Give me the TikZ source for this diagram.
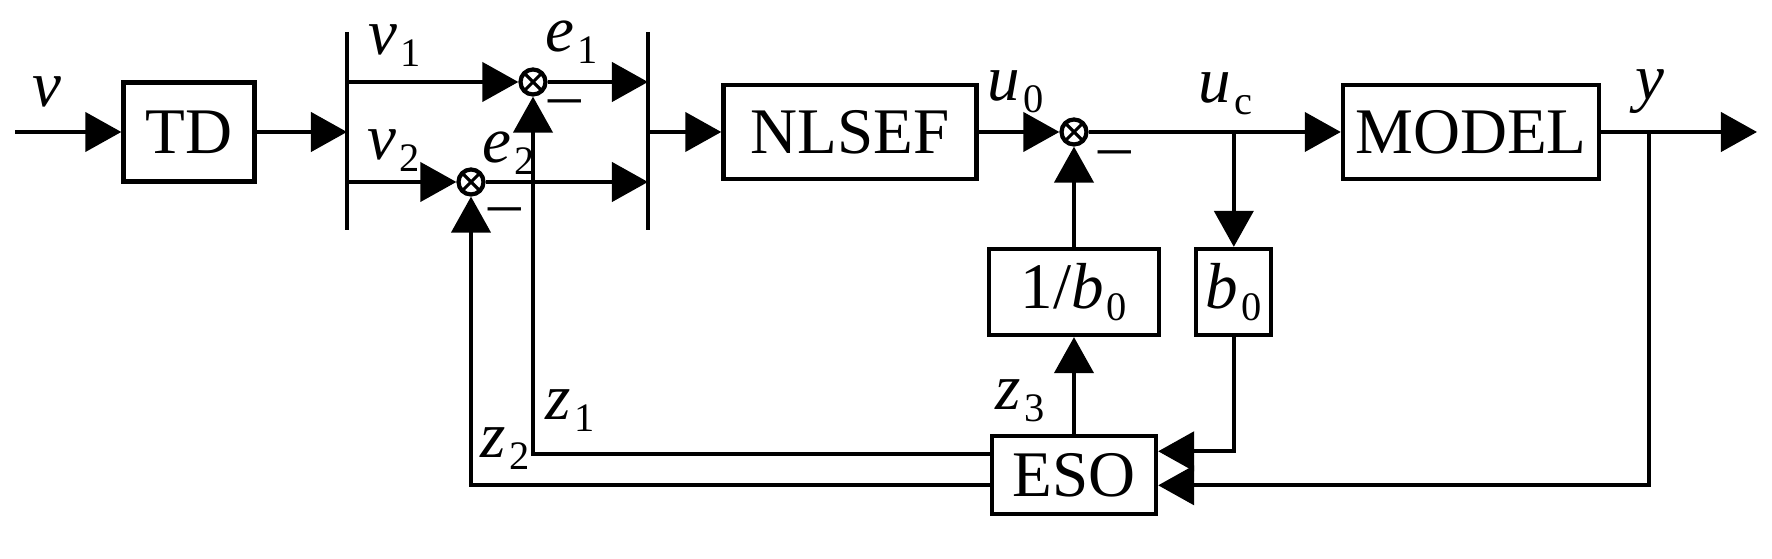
\documentclass[tikz,border=0pt]{standalone}
\usepackage{fontspec}
\setmainfont{Liberation Serif}
\usetikzlibrary{arrows.meta, positioning}
\newcommand{\sig}[2]{\textit{#1}\kern0.03cm\raisebox{-0.12cm}{\fontsize{11.5}{12}\selectfont #2}}

\begin{document}
\begin{tikzpicture}[x=0.01cm, y=-0.01cm, font=\fontsize{18.5}{20}\selectfont,
  block/.style={rectangle, draw, line width=1.2pt, inner sep=0pt, minimum height=0.94cm},
  sumj/.style={circle, draw, line width=1.2pt, inner sep=0pt, minimum size=0.25cm,
    path picture={\draw[line width=0.9pt] (path picture bounding box.north west) -- (path picture bounding box.south east)
      (path picture bounding box.north east) -- (path picture bounding box.south west);}},
  lbl/.style={inner sep=0pt, anchor=base west},
  minus/.style={inner sep=0pt, anchor=base},
  line/.style={line width=1.2pt},
  arrow/.style={-{Triangle[length=0.36cm, width=0.39cm]}, line width=1.2pt}]
\useasboundingbox (0,0) rectangle (1772,559);

% blocks
\node[block, minimum width=1.31cm, minimum height=0.99cm] (TD) at (189,132) {TD};
\node[block, minimum width=2.53cm] (NLSEF) at (850,132) {NLSEF};
\node[block, minimum width=2.56cm] (MODEL) at (1471,132) {MODEL};
\node[block, minimum width=1.70cm, minimum height=0.86cm] (invb) at (1074,292) {1/\sig{b}{0}};
\node[block, minimum width=0.75cm, minimum height=0.86cm, right=0.33cm of invb] (b0) {\sig{b}{0}};
\node[block, minimum width=1.64cm, minimum height=0.78cm, below=0.97cm of invb] (ESO) {ESO};

% summing junctions
\node[sumj] (sum1) at (533,82) {};
\node[sumj] (sum2) at (471,182) {};
\node[sumj] (sum3) at (1074,132) {};

% bars
\coordinate (b1t) at (347,32);
\coordinate (b1b) at (347,230);
\coordinate (b2t) at (648,32);
\coordinate (b2b) at (648,230);
\draw[line] (b1t) -- (b1b);
\draw[line] (b2t) -- (b2b);

\coordinate (vin) at (15,132);
\coordinate (uc) at (b0 |- sum3);
\coordinate (ybr) at (1649,132);
\coordinate (yout) at (1757,132);

% forward path
\draw[arrow] (vin) -- (TD);
\draw[arrow] (TD) -- (TD -| b1t);
\draw[arrow] (sum1 -| b1t) -- (sum1);
\draw[arrow] (sum2 -| b1t) -- (sum2);
\draw[arrow] (sum1) -- (sum1 -| b2t);
\draw[arrow] (sum2) -- (sum2 -| b2t);
\draw[arrow] (NLSEF -| b2t) -- (NLSEF);
\draw[arrow] (NLSEF) -- (sum3);
\draw[arrow] (sum3) -- (MODEL);
\draw[arrow] (MODEL) -- (yout);

% feedback
\draw[arrow] (uc) -- (b0);
\draw[arrow] (b0) |- ([yshift=0.24cm]ESO.east);
\draw[arrow] (ybr) |- ([yshift=-0.1cm]ESO.east);
\draw[arrow] (ESO) -- (invb);
\draw[arrow] (invb) -- (sum3);
\draw[arrow] ([yshift=0.21cm]ESO.west) -| (sum1);
\draw[arrow] ([yshift=-0.1cm]ESO.west) -| (sum2);

% labels
\node[lbl] (lv) at (32,107) {\textit{v}};
\node[lbl] (lv1) at (368,55) {\sig{v}{1}};
\node[lbl] (le1) at (545,52) {\sig{e}{1}};
\node[lbl] (lv2) at (367,160) {\sig{v}{2}};
\node[lbl] (le2) at (482,163) {\sig{e}{2}};
\node[lbl] (lu0) at (987,101) {\sig{u}{0}};
\node[lbl] (luc) at (1198,103) {\sig{u}{c}};
\node[lbl] (ly) at (1635,100) {\textit{y}};
\node[lbl] (lz3) at (995,410) {\sig{z}{3}};
\node[lbl] (lz1) at (545,420) {\sig{z}{1}};
\node[lbl] (lz2) at (480,458) {\sig{z}{2}};
\node[minus] (m1) at (565,117) {\textendash};
\node[minus] (m2) at (505,225) {\textendash};
\node[minus] (m3) at (1115,168) {\textendash};
\end{tikzpicture}
\end{document}
